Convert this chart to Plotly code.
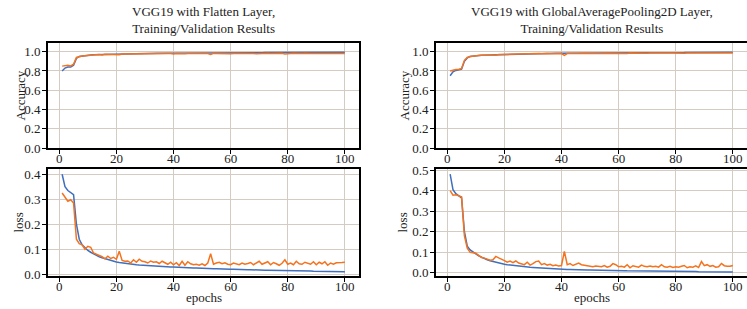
import plotly.graph_objects as go

epochs = list(range(1, 101))

# Left: VGG19 with Flatten Layer
flat_train_acc = [0.800, 0.830, 0.840, 0.840, 0.860, 0.930, 0.950, 0.955, 0.960, 0.962,
                  0.965, 0.967, 0.968, 0.970, 0.971, 0.972, 0.973, 0.974, 0.975, 0.976,
                  0.977, 0.977, 0.978, 0.978, 0.979, 0.979, 0.980, 0.980, 0.981, 0.981,
                  0.982, 0.982, 0.982, 0.983, 0.983, 0.983, 0.984, 0.984, 0.984, 0.985,
                  0.985, 0.985, 0.985, 0.986, 0.986, 0.986, 0.986, 0.987, 0.987, 0.987,
                  0.987, 0.987, 0.988, 0.988, 0.988, 0.988, 0.988, 0.989, 0.989, 0.989,
                  0.989, 0.989, 0.989, 0.990, 0.990, 0.990, 0.990, 0.990, 0.990, 0.990,
                  0.990, 0.991, 0.991, 0.991, 0.990, 0.991, 0.991, 0.991, 0.991, 0.992,
                  0.991, 0.992, 0.992, 0.991, 0.992, 0.992, 0.992, 0.992, 0.992, 0.992,
                  0.992, 0.993, 0.992, 0.993, 0.993, 0.993, 0.993, 0.993, 0.993, 0.993]
flat_val_acc = [0.850, 0.855, 0.858, 0.852, 0.870, 0.940, 0.950, 0.955, 0.958, 0.962,
                0.965, 0.963, 0.968, 0.970, 0.966, 0.972, 0.971, 0.974, 0.973, 0.975,
                0.968, 0.975, 0.976, 0.977, 0.975, 0.978, 0.977, 0.976, 0.979, 0.978,
                0.980, 0.979, 0.978, 0.980, 0.981, 0.979, 0.980, 0.982, 0.981, 0.977,
                0.982, 0.980, 0.983, 0.979, 0.982, 0.981, 0.983, 0.982, 0.980, 0.983,
                0.982, 0.981, 0.972, 0.983, 0.982, 0.980, 0.983, 0.982, 0.981, 0.979,
                0.982, 0.983, 0.980, 0.982, 0.981, 0.983, 0.981, 0.982, 0.979, 0.981,
                0.982, 0.980, 0.983, 0.981, 0.982, 0.980, 0.981, 0.983, 0.976, 0.982,
                0.981, 0.983, 0.980, 0.982, 0.981, 0.983, 0.979, 0.982, 0.981, 0.983,
                0.980, 0.982, 0.981, 0.979, 0.983, 0.981, 0.982, 0.980, 0.982, 0.981]
flat_train_loss = [0.400, 0.350, 0.335, 0.325, 0.318, 0.200, 0.140, 0.118, 0.105, 0.095,
                   0.088, 0.081, 0.075, 0.070, 0.066, 0.062, 0.058, 0.055, 0.052, 0.049,
                   0.047, 0.045, 0.043, 0.042, 0.040, 0.039, 0.038, 0.037, 0.036, 0.035,
                   0.034, 0.033, 0.033, 0.032, 0.031, 0.031, 0.030, 0.030, 0.029, 0.029,
                   0.028, 0.028, 0.027, 0.027, 0.026, 0.026, 0.025, 0.025, 0.024, 0.024,
                   0.023, 0.023, 0.023, 0.022, 0.022, 0.021, 0.021, 0.021, 0.020, 0.020,
                   0.020, 0.019, 0.019, 0.019, 0.018, 0.018, 0.018, 0.017, 0.017, 0.017,
                   0.017, 0.016, 0.016, 0.016, 0.016, 0.015, 0.015, 0.015, 0.015, 0.014,
                   0.014, 0.014, 0.014, 0.013, 0.013, 0.013, 0.013, 0.013, 0.012, 0.012,
                   0.012, 0.012, 0.012, 0.011, 0.011, 0.011, 0.011, 0.011, 0.010, 0.010]
flat_val_loss = [0.325, 0.310, 0.292, 0.298, 0.285, 0.140, 0.122, 0.118, 0.100, 0.112,
                 0.108, 0.085, 0.080, 0.076, 0.070, 0.062, 0.072, 0.063, 0.068, 0.060,
                 0.092, 0.055, 0.052, 0.053, 0.045, 0.058, 0.048, 0.060, 0.052, 0.050,
                 0.045, 0.053, 0.048, 0.050, 0.043, 0.052, 0.045, 0.040, 0.048, 0.038,
                 0.046, 0.035, 0.052, 0.036, 0.050, 0.042, 0.038, 0.040, 0.036, 0.042,
                 0.035, 0.045, 0.082, 0.040, 0.045, 0.048, 0.042, 0.046, 0.040, 0.038,
                 0.045, 0.042, 0.038, 0.045, 0.040, 0.043, 0.047, 0.038, 0.044, 0.052,
                 0.040, 0.046, 0.050, 0.038, 0.047, 0.042, 0.036, 0.044, 0.058, 0.040,
                 0.045, 0.038, 0.052, 0.042, 0.040, 0.048, 0.045, 0.040, 0.050, 0.038,
                 0.048, 0.042, 0.050, 0.036, 0.045, 0.040, 0.046, 0.048, 0.047, 0.048]

# Right: VGG19 with GlobalAveragePooling2D Layer
gap_train_acc = [0.750, 0.790, 0.805, 0.812, 0.820, 0.900, 0.935, 0.950, 0.955, 0.958,
                 0.960, 0.962, 0.963, 0.965, 0.967, 0.968, 0.970, 0.971, 0.972, 0.973,
                 0.974, 0.975, 0.976, 0.977, 0.977, 0.978, 0.979, 0.979, 0.980, 0.980,
                 0.981, 0.981, 0.982, 0.982, 0.983, 0.983, 0.983, 0.984, 0.984, 0.984,
                 0.985, 0.985, 0.985, 0.985, 0.986, 0.986, 0.986, 0.986, 0.987, 0.987,
                 0.987, 0.987, 0.987, 0.988, 0.988, 0.988, 0.988, 0.988, 0.988, 0.989,
                 0.989, 0.989, 0.989, 0.989, 0.989, 0.990, 0.990, 0.990, 0.990, 0.990,
                 0.990, 0.990, 0.990, 0.991, 0.991, 0.991, 0.991, 0.991, 0.991, 0.991,
                 0.991, 0.991, 0.991, 0.992, 0.992, 0.992, 0.992, 0.992, 0.992, 0.992,
                 0.992, 0.992, 0.992, 0.992, 0.992, 0.993, 0.993, 0.993, 0.993, 0.993]
gap_val_acc = [0.800, 0.810, 0.815, 0.815, 0.825, 0.910, 0.940, 0.950, 0.955, 0.957,
               0.960, 0.962, 0.962, 0.965, 0.966, 0.968, 0.962, 0.970, 0.971, 0.973,
               0.974, 0.973, 0.976, 0.975, 0.977, 0.976, 0.978, 0.977, 0.979, 0.978,
               0.979, 0.980, 0.978, 0.981, 0.980, 0.979, 0.981, 0.982, 0.980, 0.981,
               0.962, 0.981, 0.982, 0.980, 0.982, 0.981, 0.983, 0.982, 0.981, 0.983,
               0.982, 0.984, 0.983, 0.982, 0.984, 0.983, 0.981, 0.984, 0.983, 0.985,
               0.984, 0.983, 0.980, 0.985, 0.984, 0.982, 0.985, 0.984, 0.985, 0.983,
               0.985, 0.984, 0.985, 0.983, 0.982, 0.985, 0.984, 0.985, 0.986, 0.984,
               0.985, 0.986, 0.984, 0.986, 0.985, 0.984, 0.986, 0.985, 0.983, 0.985,
               0.986, 0.984, 0.985, 0.986, 0.982, 0.985, 0.986, 0.985, 0.984, 0.985]
gap_train_loss = [0.480, 0.405, 0.385, 0.375, 0.365, 0.200, 0.130, 0.112, 0.100, 0.092,
                  0.083, 0.076, 0.070, 0.064, 0.059, 0.055, 0.051, 0.048, 0.045, 0.042,
                  0.040, 0.038, 0.036, 0.034, 0.032, 0.031, 0.029, 0.028, 0.027, 0.026,
                  0.025, 0.024, 0.023, 0.022, 0.022, 0.021, 0.020, 0.020, 0.019, 0.018,
                  0.018, 0.017, 0.017, 0.016, 0.016, 0.015, 0.015, 0.015, 0.014, 0.014,
                  0.014, 0.013, 0.013, 0.013, 0.012, 0.012, 0.012, 0.012, 0.011, 0.011,
                  0.011, 0.011, 0.010, 0.010, 0.010, 0.010, 0.010, 0.009, 0.009, 0.009,
                  0.009, 0.009, 0.009, 0.008, 0.008, 0.008, 0.008, 0.008, 0.008, 0.008,
                  0.007, 0.007, 0.007, 0.007, 0.007, 0.007, 0.007, 0.006, 0.006, 0.006,
                  0.006, 0.006, 0.006, 0.006, 0.006, 0.005, 0.005, 0.005, 0.005, 0.005]
gap_val_loss = [0.400, 0.378, 0.380, 0.376, 0.370, 0.180, 0.120, 0.100, 0.098, 0.096,
                0.085, 0.075, 0.072, 0.066, 0.062, 0.064, 0.080, 0.073, 0.068, 0.060,
                0.052, 0.058, 0.050, 0.058, 0.048, 0.045, 0.040, 0.052, 0.038, 0.045,
                0.055, 0.058, 0.040, 0.045, 0.038, 0.042, 0.035, 0.038, 0.034, 0.036,
                0.105, 0.040, 0.045, 0.036, 0.042, 0.048, 0.040, 0.038, 0.036, 0.032,
                0.030, 0.034, 0.032, 0.030, 0.036, 0.028, 0.032, 0.045, 0.040, 0.030,
                0.032, 0.028, 0.040, 0.025, 0.035, 0.030, 0.028, 0.038, 0.032, 0.030,
                0.034, 0.030, 0.032, 0.028, 0.040, 0.030, 0.028, 0.032, 0.026, 0.030,
                0.028, 0.032, 0.036, 0.025, 0.030, 0.028, 0.034, 0.026, 0.055, 0.035,
                0.040, 0.032, 0.036, 0.028, 0.030, 0.046, 0.035, 0.032, 0.032, 0.036]

titles = ["VGG19 with Flatten Layer,<br>Training/Validation Results",
          "VGG19 with GlobalAveragePooling2D Layer,<br>Training/Validation Results"]
x_ticks = [0, 20, 40, 60, 80, 100]
acc_ticks = [0.0, 0.2, 0.4, 0.6, 0.8, 1.0]
loss_ticks_left = [0.0, 0.1, 0.2, 0.3, 0.4]
loss_ticks_right = [0.0, 0.1, 0.2, 0.3, 0.4, 0.5]

BLUE = "#3f6fbd"
ORANGE = "#f4731f"
GRID = "#d4ccc3"
FONT = "Liberation Serif"
TXT = "#222222"
FS = 13
W, H = 747, 309

fig = go.Figure()

def add(x, y, color, xa, ya):
    fig.add_trace(go.Scatter(x=x, y=y, mode="lines", line=dict(color=color, width=1.5),
                             xaxis=xa, yaxis=ya, showlegend=False, hoverinfo="skip"))

add(epochs, flat_train_acc, BLUE, "x", "y")
add(epochs, flat_val_acc, ORANGE, "x", "y")
add(epochs, flat_train_loss, BLUE, "x2", "y2")
add(epochs, flat_val_loss, ORANGE, "x2", "y2")
add(epochs, gap_train_acc, BLUE, "x3", "y3")
add(epochs, gap_val_acc, ORANGE, "x3", "y3")
add(epochs, gap_train_loss, BLUE, "x4", "y4")
add(epochs, gap_val_loss, ORANGE, "x4", "y4")

xl = [48 / W, 359 / W]
xr = [436 / W, 1.0]
yt = [1 - 148 / H, 1 - 43 / H]
yb = [1 - 276 / H, 1 - 169 / H]

def common():
    return dict(showgrid=True, gridcolor=GRID, gridwidth=1.3, zeroline=False,
                showline=True, linecolor="black", linewidth=1.6, automargin=False,
                ticks="outside", ticklen=4, tickcolor="black", tickwidth=1,
                tickfont=dict(family=FONT, size=FS, color=TXT))

def xaxis(dom, anchor):
    d = common()
    d.update(domain=dom, anchor=anchor, range=[-3.95, 104.95], tickvals=x_ticks, mirror=True,
             ticklabelstandoff=-6)
    return d

def yaxis(dom, anchor, rng, ticks, mirror=True):
    d = common()
    d.update(domain=dom, anchor=anchor, range=rng, tickvals=ticks, tickformat=".1f", mirror=mirror,
             ticklabelstandoff=-1)
    return d

fig.update_layout(
    width=W, height=H, margin=dict(l=0, r=0, t=0, b=0, autoexpand=False),
    paper_bgcolor="white", plot_bgcolor="white",
    font=dict(family=FONT, size=FS, color=TXT),
    xaxis=xaxis(xl, "y"), yaxis=yaxis(yt, "x", [0, 1.09], acc_ticks),
    xaxis2=xaxis(xl, "y2"), yaxis2=yaxis(yb, "x2", [-0.007, 0.421], loss_ticks_left),
    xaxis3=xaxis(xr, "y3"), yaxis3=yaxis(yt, "x3", [0, 1.09], acc_ticks, mirror=False),
    xaxis4=xaxis(xr, "y4"), yaxis4=yaxis(yb, "x4", [-0.015, 0.505], loss_ticks_right, mirror=False),
)

ann = []
centers = [(48 + 359) / 2 / W, (436 + 747) / 2 / W]
for i in range(2):
    ann.append(dict(text=titles[i], x=centers[i], y=1 - 20 / H, xref="paper", yref="paper",
                    showarrow=False, font=dict(family=FONT, size=FS, color=TXT),
                    xanchor="center", yanchor="middle"))
    ann.append(dict(text="epochs", x=centers[i], y=1 - 297 / H, xref="paper", yref="paper",
                    showarrow=False, font=dict(family=FONT, size=FS, color=TXT),
                    xanchor="center", yanchor="middle"))
ylab_x = [20 / W, 404 / W]
for i in range(2):
    ann.append(dict(text="Accuracy", x=ylab_x[i], y=(yt[0] + yt[1]) / 2, xref="paper", yref="paper",
                    showarrow=False, textangle=-90, font=dict(family=FONT, size=FS, color=TXT),
                    xanchor="center", yanchor="middle"))
    ann.append(dict(text="loss", x=ylab_x[i] - 2 / W, y=(yb[0] + yb[1]) / 2, xref="paper", yref="paper",
                    showarrow=False, textangle=-90, font=dict(family=FONT, size=FS, color=TXT),
                    xanchor="center", yanchor="middle"))
fig.update_layout(annotations=ann)

fig.write_html("out.html", config={"displayModeBar": False},
               post_script="document.body.style.margin='0';document.body.style.overflow='hidden';")
